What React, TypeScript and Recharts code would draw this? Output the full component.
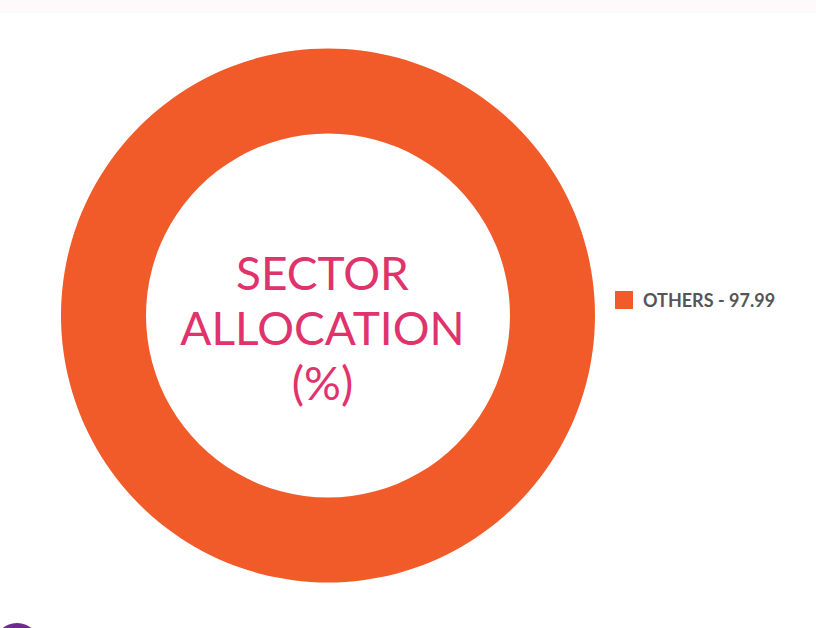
import React from 'react';
import { PieChart, Pie, Cell, Legend, Label } from 'recharts';

const categories = ['OTHERS'];
const values = [97.99];
const colors = ['#F15A29'];
const centerLines = ['SECTOR', 'ALLOCATION', '(%)'];

const data = categories.map((name, i) => ({ name, value: values[i] }));

const CenterLabel = (props: any) => {
  const vb = props.viewBox || {};
  const cx = vb.cx ?? 328;
  const cy = vb.cy ?? 315;
  const baselines = [-25, 30, 85];
  return (
    <g>
      {centerLines.map((t, i) => (
        <text
          key={i}
          x={cx - 5.5}
          y={cy + baselines[i]}
          textAnchor="middle"
          fill="#E0336B"
          fontFamily="Lato, sans-serif"
          fontSize={46}
        >
          {t}
        </text>
      ))}
    </g>
  );
};

const LegendContent = (props: any) => {
  const { payload } = props;
  return (
    <div>
      {(payload || []).map((p: any, i: number) => (
        <div key={i} style={{ display: 'flex', alignItems: 'center', fontFamily: 'Lato, sans-serif' }}>
          <div style={{ width: 18, height: 18, background: p.color, marginRight: 10 }} />
          <span style={{ fontSize: 18, fontWeight: 700, color: '#555555' }}>
            {p.value} - {values[i].toFixed(2)}
          </span>
        </div>
      ))}
    </div>
  );
};

export default function App() {
  return (
    <div style={{ position: 'fixed', left: 0, top: 0, width: 816, height: 628, overflow: 'hidden', background: '#ffffff' }}>
      <div style={{ position: 'absolute', left: 0, top: 0, width: 816, height: 13, background: '#FEFAFC' }} />
      <div style={{ position: 'absolute', left: -6, top: 623, width: 46, height: 46, borderRadius: '50%', background: '#6E2A8E' }} />
      <div style={{ position: 'absolute', left: 0, top: 0 }}>
        <PieChart width={816} height={628} margin={{ top: 0, right: 0, bottom: 0, left: 0 }}>
          <Pie
            data={data}
            dataKey="value"
            nameKey="name"
            cx={328}
            cy={315.5}
            innerRadius={182}
            outerRadius={267}
            startAngle={90}
            endAngle={-270}
            stroke="none"
            isAnimationActive={false}
          >
            {data.map((d, i) => (
              <Cell key={d.name} fill={colors[i]} />
            ))}
            <Label content={CenterLabel} position="center" />
          </Pie>
          <Legend
            layout="vertical"
            verticalAlign="middle"
            align="right"
            wrapperStyle={{ left: 615, top: 289, width: 200, right: 'auto', bottom: 'auto' }}
            content={LegendContent}
          />
        </PieChart>
      </div>
    </div>
  );
}
